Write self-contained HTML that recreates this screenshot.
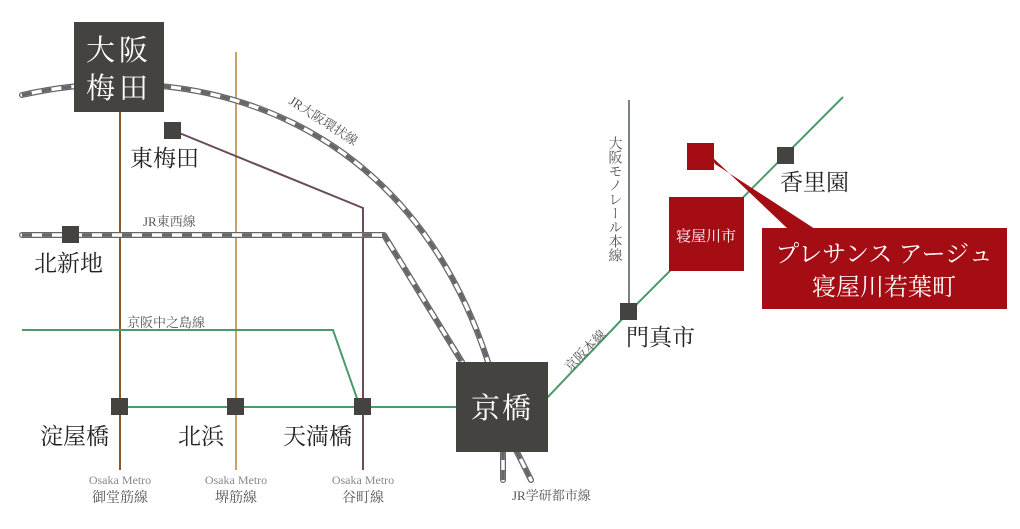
<!DOCTYPE html>
<html><head><meta charset="utf-8"><style>
html,body{margin:0;padding:0;background:#fff}
svg{display:block}
text{font-family:"Liberation Serif","Noto Serif CJK SC","Noto Serif CJK JP",serif}
</style></head><body>
<svg width="1020" height="529" viewBox="0 0 1020 529" xmlns="http://www.w3.org/2000/svg">
<line x1="120" y1="100" x2="120" y2="470" stroke="#8b5a2b" stroke-width="2"/>
<line x1="236" y1="52" x2="236" y2="470" stroke="#c9a265" stroke-width="2"/>
<polyline points="172,130 363,208 363,470" fill="none" stroke="#6b4a5e" stroke-width="2"/>
<polyline points="22,330 333,330 360,407" fill="none" stroke="#4a9a6a" stroke-width="2"/>
<line x1="120" y1="407" x2="460" y2="407" stroke="#4a9a6a" stroke-width="2"/>
<polyline points="545,400 629,312 843,97" fill="none" stroke="#4a9a6a" stroke-width="2"/>
<line x1="629" y1="100" x2="629" y2="312" stroke="#7a8088" stroke-width="2"/>
<g fill="none" stroke-linecap="round" stroke-linejoin="round">
<path d="M22,95 C200,55 410,120 488,362" stroke="#666" stroke-width="6"/>
<path d="M22,95 C200,55 410,120 488,362" stroke="#fff" stroke-width="3.5"/>
<path d="M22,95 C200,55 410,120 488,362" stroke="#666" stroke-width="3.5" stroke-dasharray="10 10" stroke-linecap="butt"/>
<path d="M22,235 H384 L462,362" stroke="#666" stroke-width="6"/>
<path d="M22,235 H384 L462,362" stroke="#fff" stroke-width="3.5"/>
<path d="M22,235 H384 L462,362" stroke="#666" stroke-width="3.5" stroke-dasharray="10 10" stroke-linecap="butt"/>
<path d="M503,450 V480 M516,450 L531,480" stroke="#666" stroke-width="6"/>
<path d="M503,450 V480 M516,450 L531,480" stroke="#fff" stroke-width="3.5"/>
<path d="M503,450 V480 M516,450 L531,480" stroke="#666" stroke-width="3.5" stroke-dasharray="10 10" stroke-linecap="butt"/>
</g>
<rect x="74" y="22" width="90" height="90" fill="#45433f"/>
<text x="119" y="60" fill="#fff" font-size="29" text-anchor="middle" letter-spacing="4">大阪</text>
<text x="119" y="98" fill="#fff" font-size="29" text-anchor="middle" letter-spacing="4">梅田</text>
<rect x="456" y="362" width="92" height="90" fill="#45433f"/>
<text x="502" y="418" fill="#fff" font-size="29" text-anchor="middle" letter-spacing="2">京橋</text>
<g fill="#45433f">
<rect x="62" y="226" width="17" height="17"/>
<rect x="164" y="122" width="17" height="17"/>
<rect x="111" y="398" width="17" height="17"/>
<rect x="227" y="398" width="17" height="17"/>
<rect x="354" y="398" width="17" height="17"/>
<rect x="620" y="303" width="17" height="17"/>
<rect x="777" y="147" width="17" height="17"/>
</g>
<polygon points="711,156 715,164 815,229 788,229" fill="#a50d14"/>
<rect x="687" y="143" width="27" height="27" fill="#a50d14"/>
<rect x="669" y="197" width="75" height="74" fill="#a50d14"/>
<text x="706" y="241" fill="#fff" font-size="15" text-anchor="middle">寝屋川市</text>
<rect x="762" y="228" width="245" height="81" fill="#a50d14"/>
<text x="884" y="262" fill="#fff" font-size="24" text-anchor="middle">プレサンス アージュ</text>
<text x="884" y="295" fill="#fff" font-size="24" text-anchor="middle">寝屋川若葉町</text>
<g font-size="23" fill="#222">
<text x="130" y="166">東梅田</text>
<text x="34" y="271">北新地</text>
<text x="40" y="444">淀屋橋</text>
<text x="178" y="444">北浜</text>
<text x="283" y="444">天満橋</text>
<text x="626" y="345">門真市</text>
<text x="780" y="190">香里園</text>
</g>
<g font-size="13" fill="#555">
<text x="143" y="226">JR東西線</text>
<text x="127" y="327">京阪中之島線</text>
<text x="512" y="500">JR学研都市線</text>
<text transform="translate(288,103) rotate(33)">JR大阪環状線</text>
<text transform="translate(570,372) rotate(-45)">京阪本線</text>
<text x="120" y="484" text-anchor="middle" font-size="12" fill="#888">Osaka Metro</text>
<text x="120" y="502" text-anchor="middle" font-size="14">御堂筋線</text>
<text x="236" y="484" text-anchor="middle" font-size="12" fill="#888">Osaka Metro</text>
<text x="236" y="502" text-anchor="middle" font-size="14">堺筋線</text>
<text x="363" y="484" text-anchor="middle" font-size="12" fill="#888">Osaka Metro</text>
<text x="363" y="502" text-anchor="middle" font-size="14">谷町線</text>
<text x="614" y="136" font-size="14" text-anchor="start" writing-mode="tb">大阪モノレール本線</text>
</g>
</svg>
</body></html>
